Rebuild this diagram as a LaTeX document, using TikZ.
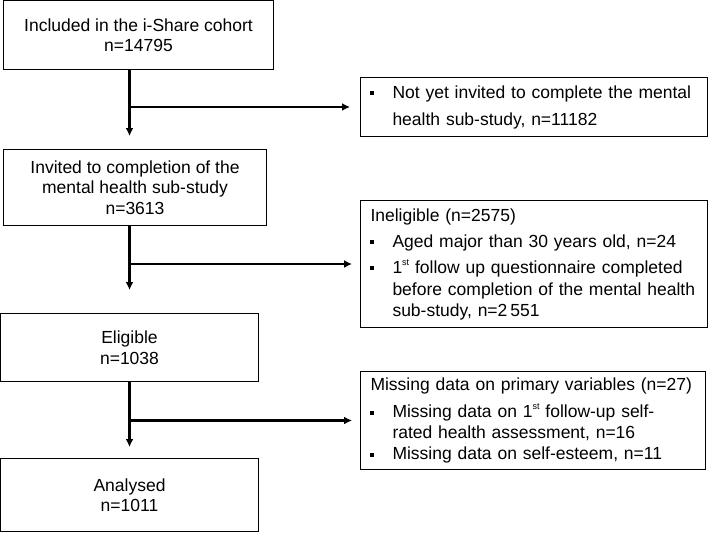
\documentclass[tikz,border=0pt]{standalone}
\usepackage{fontspec}
\setmainfont{Liberation Sans}
\usetikzlibrary{positioning,arrows.meta}
\tikzset{
  box/.style={draw, line width=1pt, inner sep=0pt, anchor=north west,
    align=center, font=\fontsize{17.5}{20.5}\selectfont},
  sidebox/.style={box, align=left, inner xsep=9pt,
    font=\fontsize{17.5}{21}\selectfont},
  flow/.style={line width=2.2pt, -{Latex[length=8pt,width=8pt]}},
}
\newcommand{\blt}{\makebox[23pt][l]{\rule[3pt]{4pt}{4pt}}}
\newcommand{\ind}{\hspace*{23pt}}
\newcommand{\sst}{\raisebox{8pt}{\fontsize{9}{9}\selectfont st}}
\begin{document}
\begin{tikzpicture}[x=1pt, y=-1pt]
    \useasboundingbox (0,0) rectangle (708,532);

    % main column
    \node[box, minimum width=270pt, minimum height=69pt] at (3,0)
    (inc) {Included in the i-Share cohort\\n=14795};
    \node[box, minimum width=263pt, minimum height=76pt] at (3,149)
    (inv) {Invited to completion of the\\mental health sub-study\\n=3613};
    \node[box, minimum width=258pt, minimum height=68pt] at (0,313)
    (eli) {Eligible\\n=1038};
    \node[box, minimum width=258pt, minimum height=73pt] at (0,458)
    (ana) {Analysed\\n=1011};

    % exclusions
    \node[sidebox, text width=329pt, minimum height=59pt] at (360,77)
    (nyi) {\blt Not yet invited to complete the mental\\[6pt]
      \ind health sub-study, n=11182};
    \node[sidebox, text width=329pt, minimum height=127pt] at (360,200)
    (inel) {\hspace*{1pt}Ineligible (n=2575)\\[5pt]
      \blt Aged major than 30 years old, n=24\\[5pt]
      \blt 1\sst{} follow up questionnaire completed\\[1pt]
      \ind before completion of the mental health\\
      \ind sub-study, n=2\,551};
    \node[sidebox, text width=327pt, minimum height=98pt] at (360,371)
    (miss) {\hspace*{1pt}Missing data on primary variables (n=27)\\[6pt]
      \blt Missing data on 1\sst{} follow-up self-\\
      \ind rated health assessment, n=16\\
      \blt Missing data on self-esteem, n=11};

    \draw[flow, shorten >=13pt] (inc.south -| eli.north) -- (inv.north -| eli.north);
    \draw[flow, shorten >=23pt] (inv.south -| eli.north) -- (eli.north);
    \draw[flow, shorten >=11pt] (eli.south) -- (ana.north);

    \draw[flow, shorten >=10pt, shorten <=-1pt] (nyi.west -| eli.north) -- (nyi.west);
    \draw[flow, shorten >=8pt, shorten <=-1pt] (inel.west -| eli.north) -- (inel.west);
    \draw[flow, shorten >=8pt, shorten <=-1pt] (miss.west -| eli.north) -- (miss.west);
  \end{tikzpicture}
\end{document}
